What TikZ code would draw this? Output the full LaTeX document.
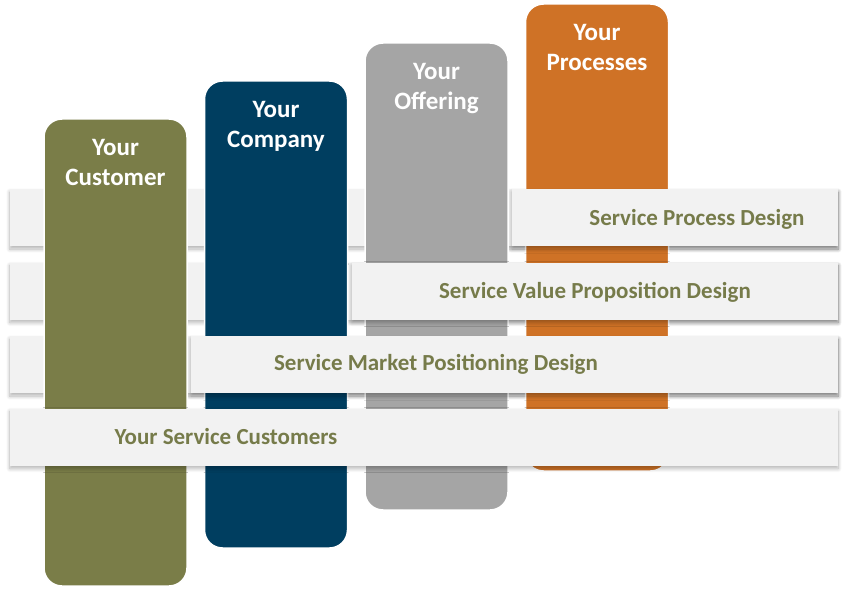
\documentclass[tikz,border=0pt]{standalone}
\usepackage{fontspec}
\setmainfont{Carlito}
\usepackage{tikz}
\usetikzlibrary{positioning, shadows.blur}
\definecolor{custolive}{HTML}{7A7D48}
\definecolor{compnavy}{HTML}{003E60}
\definecolor{offgray}{HTML}{A5A5A5}
\definecolor{procorange}{HTML}{CF7226}
\definecolor{bandgray}{HTML}{F2F2F2}
\definecolor{bandtext}{HTML}{767B4A}
\tikzset{
bar/.style={ % Sets the properties for each column
rounded corners=18pt, draw=white, line width=1.5pt,
minimum width=143pt, minimum height=467pt, inner sep=0pt},
barlabel/.style={ % Title at the top of a column
text=white, font=\bfseries\fontsize{25}{30}\selectfont,
align=center, anchor=north, inner sep=0pt},
band/.style={ % Sets the properties for each strip
fill=bandgray, minimum height=57pt, inner sep=0pt,
blur shadow={shadow xshift=0pt, shadow yshift=-3pt, shadow opacity=30, shadow blur steps=8, shadow blur radius=4pt}},
bandlabel/.style={ % Text on a strip
text=bandtext, font=\bfseries\fontsize{23}{26}\selectfont, inner sep=0pt}}

\begin{document}
\begin{tikzpicture}[x=1pt, y=-1pt]
    \useasboundingbox (0,0) rectangle (849,591);

    % strips behind the columns
    \node[band, minimum width=828pt] (back1) at (424,217.5) {};
    \node[band, minimum width=828pt] (back2) at (424,291) {};
    \node[band, minimum width=828pt] (back3) at (424,364.5) {};

    % columns and strips, back to front
    \node[bar, fill=procorange] (proc) at (597,237.5) {};
    \node[barlabel, below=20.5pt of proc.north] (procl) {Your\\Processes};
    \node[band, minimum width=326pt] (front1) at (675,217.5) {};

    \node[bar, fill=offgray] (off) at (436.5,276.5) {};
    \node[barlabel, below=20.5pt of off.north] (offl) {Your\\Offering};
    \node[band, minimum width=486pt] (front2) at (595,291) {};

    \node[bar, fill=compnavy] (comp) at (276,314.5) {};
    \node[barlabel, below=20.5pt of comp.north] (compl) {Your\\Company};
    \node[band, minimum width=647pt] (front3) at (514.5,364.5) {};

    \node[bar, fill=custolive] (cust) at (115.5,352.5) {};
    \node[barlabel, below=20.5pt of cust.north] (custl) {Your\\Customer};
    \node[band, minimum width=828pt] (front4) at (424,437) {};

    \node[bandlabel] (l1) at (697,219) {Service Process Design};
    \node[bandlabel] (l2) at (595,292) {Service Value Proposition Design};
    \node[bandlabel] (l3) at (436,364) {Service Market Positioning Design};
    \node[bandlabel] (l4) at (226,437) {Your Service Customers};

\end{tikzpicture}
\end{document}
